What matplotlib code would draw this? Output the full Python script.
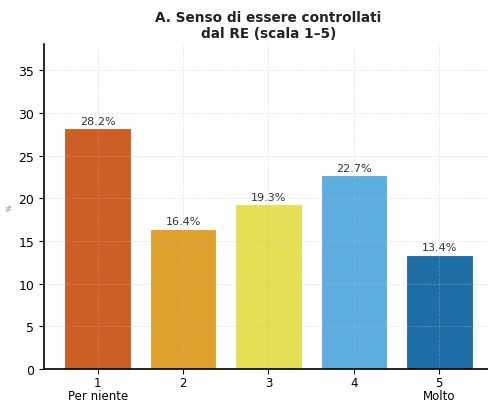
import matplotlib.pyplot as plt

categories = ['1\nPer niente', '2', '3', '4', '5\nMolto']
values = [28.2, 16.4, 19.3, 22.7, 13.4]
colors = ['#CD5F26', '#E0A02E', '#E5DF55', '#5DAEDF', '#1F6EA8']

fig = plt.figure(figsize=(4.89, 4.02), dpi=100)
ax = fig.add_axes([0.09, 0.08, 0.918, 0.808])

x = list(range(1, len(values) + 1))
bars = ax.bar(x, values, width=0.78, color=colors, edgecolor='white', linewidth=0.8, zorder=1)
for b, v in zip(bars, values):
    ax.text(b.get_x() + b.get_width() / 2, v + 0.3, f'{v:.1f}%', ha='center', va='bottom', fontsize=8, color='#333333')

ax.set_xticks(x)
ax.set_xticklabels(categories, fontsize=8.5, linespacing=0.95)
ax.tick_params(axis='x', pad=2)
ax.tick_params(axis='y', labelsize=9)
ax.set_ylim(0, max(values) * 1.35)
ax.set_ylabel('%', fontsize=5, color='#666666', labelpad=4)
ax.grid(True, linestyle='--', color='#bbbbbb', linewidth=0.6, alpha=0.35, zorder=3)
for s in ['top', 'right']:
    ax.spines[s].set_visible(False)
ax.spines['left'].set_linewidth(1.2)
ax.spines['bottom'].set_linewidth(1.2)
ax.set_title('A. Senso di essere controllati\ndal RE (scala 1–5)', fontsize=9.8, fontweight='bold', color='#222222', pad=5)

fig.savefig('out.png', dpi=100)
